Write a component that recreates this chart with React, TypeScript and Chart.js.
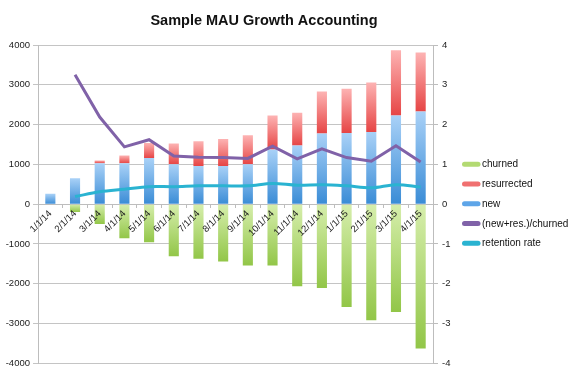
import React, { useEffect, useRef } from "react";
import { Chart, registerables } from "chart.js";

Chart.register(...registerables);

const categories = ["1/1/14", "2/1/14", "3/1/14", "4/1/14", "5/1/14", "6/1/14", "7/1/14", "8/1/14", "9/1/14", "10/1/14", "11/1/14", "12/1/14", "1/1/15", "2/1/15", "3/1/15", "4/1/15"];
const newUsers = [260, 650, 1025, 1025, 1160, 1000, 960, 960, 1000, 1375, 1475, 1775, 1790, 1815, 2225, 2330];
const resurrected = [0, 0, 75, 200, 380, 525, 620, 680, 730, 850, 825, 1055, 1110, 1245, 1645, 1480];
const churned = [0, -200, -500, -860, -960, -1310, -1375, -1440, -1540, -1540, -2065, -2110, -2585, -2915, -2710, -3625];
const growthRatio = [null, 3.25, 2.19, 1.44, 1.62, 1.21, 1.18, 1.17, 1.15, 1.46, 1.14, 1.39, 1.17, 1.08, 1.47, 1.06];
const retentionRate = [null, 0.19, 0.31, 0.375, 0.44, 0.44, 0.46, 0.46, 0.46, 0.52, 0.475, 0.49, 0.46, 0.41, 0.49, 0.43];
const leftTicks = [-4000, -3000, -2000, -1000, 0, 1000, 2000, 3000, 4000];
const rightTicks = [-4, -3, -2, -1, 0, 1, 2, 3, 4];
const seriesNames = ["new", "resurrected", "churned", "(new+res.)/churned", "retention rate"];
const legendOrder = [2, 1, 0, 3, 4];

const TITLE = "Sample MAU Growth Accounting";
const FONT = "'Liberation Sans', Arial, sans-serif";
const SOLID = ["#5ea5e8", "#f07070", "#b3da72", "#8062a8", "#2ab3d1"];

function gradientFill(top: string, bottom: string, solid: string, range: (i: number) => [number, number]) {
  return (ctx: any) => {
    if (ctx.type !== "data") return solid;
    const chart = ctx.chart;
    const y = chart.scales && chart.scales.y;
    if (!y) return solid;
    const [a, b] = range(ctx.dataIndex);
    const y0 = y.getPixelForValue(Math.max(a, b));
    const y1 = y.getPixelForValue(Math.min(a, b));
    if (!isFinite(y0) || !isFinite(y1) || y0 === y1) return solid;
    const g = chart.ctx.createLinearGradient(0, y0, 0, y1);
    g.addColorStop(0, top);
    g.addColorStop(1, bottom);
    return g;
  };
}

const titlePlugin = {
  id: "customTitle",
  afterDraw(chart: any) {
    const c = chart.ctx;
    c.save();
    c.font = `bold 14.5px ${FONT}`;
    c.fillStyle = "#111";
    c.textAlign = "center";
    c.textBaseline = "middle";
    c.fillText(TITLE, 264, 21);
    c.restore();
  },
};

const legendPlugin = {
  id: "sideLegend",
  afterDraw(chart: any) {
    const c = chart.ctx;
    const area = chart.chartArea;
    const x0 = area.right + 29;
    const mid = (area.top + area.bottom) / 2;
    const step = 19.75;
    c.save();
    c.font = `10px ${FONT}`;
    c.textAlign = "left";
    c.textBaseline = "middle";
    legendOrder.forEach((di, k) => {
      const yy = mid + (k - 2) * step - 0.5;
      c.strokeStyle = SOLID[di];
      c.lineWidth = 5;
      c.lineCap = "round";
      c.beginPath();
      c.moveTo(x0 + 2.5, yy);
      c.lineTo(x0 + 16, yy);
      c.stroke();
      c.fillStyle = "#111";
      c.fillText(chart.data.datasets[di].label, x0 + 20, yy + 0.5);
    });
    c.restore();
  },
};

export default function App() {
  const ref = useRef<HTMLCanvasElement>(null);
  useEffect(() => {
    if (!ref.current) return;
    const chart = new Chart(ref.current, {
      type: "bar",
      data: {
        labels: categories,
        datasets: [
          {
            label: seriesNames[0],
            data: newUsers,
            yAxisID: "y",
            order: 0,
            backgroundColor: gradientFill("#a9d1f7", "#3a8cd6", SOLID[0], (i) => [0, newUsers[i]]),
            barPercentage: 0.41,
            categoryPercentage: 1,
          },
          {
            label: seriesNames[1],
            data: resurrected,
            yAxisID: "y",
            order: 0,
            backgroundColor: gradientFill("#fdb3b3", "#e64545", SOLID[1], (i) => [newUsers[i], newUsers[i] + resurrected[i]]),
            barPercentage: 0.41,
            categoryPercentage: 1,
          },
          {
            label: seriesNames[2],
            data: churned,
            yAxisID: "y",
            order: 0,
            backgroundColor: gradientFill("#d6eeac", "#92c648", SOLID[2], (i) => [0, churned[i]]),
            barPercentage: 0.41,
            categoryPercentage: 1,
          },
          {
            type: "line",
            label: seriesNames[3],
            data: growthRatio as any,
            yAxisID: "y2",
            order: -1,
            borderColor: SOLID[3],
            backgroundColor: SOLID[3],
            borderWidth: 3,
            pointRadius: 0,
            tension: 0,
          } as any,
          {
            type: "line",
            label: seriesNames[4],
            data: retentionRate as any,
            yAxisID: "y2",
            order: -1,
            borderColor: SOLID[4],
            backgroundColor: SOLID[4],
            borderWidth: 3,
            pointRadius: 0,
            tension: 0.35,
          } as any,
        ],
      },
      options: {
        animation: false,
        responsive: false,
        events: [],
        layout: { padding: { top: 45, bottom: 8, left: 0, right: 119 } },
        plugins: {
          title: { display: false },
          tooltip: { enabled: false },
          legend: { display: false },
        },
        scales: {
          x: {
            type: "category",
            stacked: true,
            position: { y: 0 } as any,
            offset: true,
            grid: { drawOnChartArea: false, drawTicks: true, tickLength: 3, color: "#bdbdbd" },
            border: { display: true, color: "#bdbdbd" },
            ticks: {
              z: 1,
              color: "#222",
              font: { size: 9.5, family: FONT },
              minRotation: 45,
              maxRotation: 45,
              autoSkip: false,
              padding: 1,
            },
          },
          y: {
            type: "linear",
            position: "left",
            stacked: true,
            min: -4000,
            max: 4000,
            afterBuildTicks: (s: any) => {
              s.ticks = leftTicks.map((v) => ({ value: v }));
            },
            afterFit: (s: any) => {
              s.width = 38;
            },
            grid: { color: "#c4c4c4", lineWidth: 1, tickLength: 5, drawTicks: true },
            border: { display: true, color: "#bdbdbd" },
            ticks: { color: "#222", font: { size: 9.5, family: FONT }, padding: 3, callback: (v: any) => String(v) },
          },
          y2: {
            type: "linear",
            position: "right",
            min: -4,
            max: 4,
            afterBuildTicks: (s: any) => {
              s.ticks = rightTicks.map((v) => ({ value: v }));
            },
            afterFit: (s: any) => {
              s.width = 19;
            },
            grid: { drawOnChartArea: false, drawTicks: true, tickLength: 5, color: "#bdbdbd" },
            border: { display: true, color: "#bdbdbd" },
            ticks: { color: "#222", font: { size: 9.5, family: FONT }, padding: 4, callback: (v: any) => String(v) },
          },
        },
      },
      plugins: [titlePlugin, legendPlugin],
    } as any);
    return () => chart.destroy();
  }, []);
  return (
    <div style={{ position: "absolute", left: 0, top: 0, width: 571, height: 373 }}>
      <canvas ref={ref} width={571} height={373} style={{ display: "block" }} />
    </div>
  );
}
